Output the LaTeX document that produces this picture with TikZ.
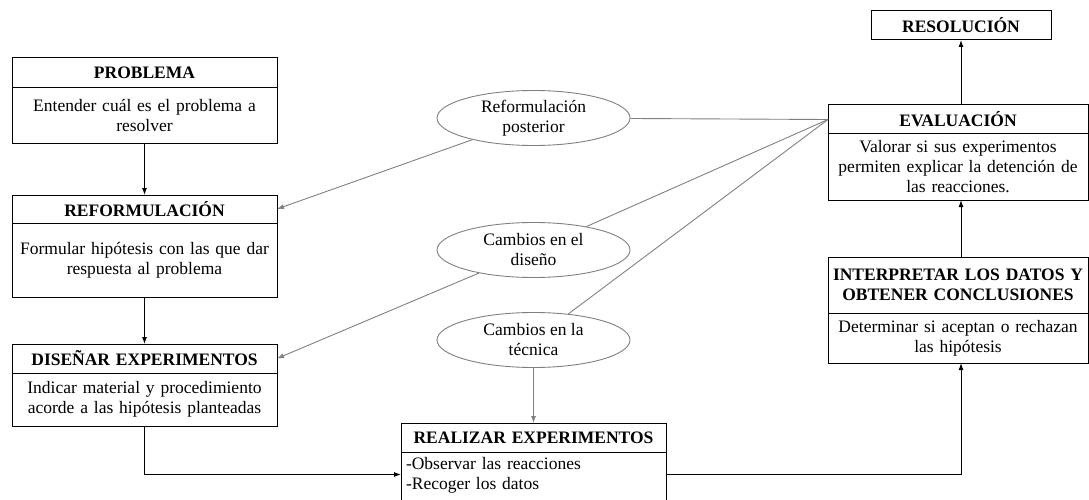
\documentclass[tikz,border=0pt]{standalone}
\usepackage{fontspec}
\setmainfont{Liberation Serif}
\usetikzlibrary{positioning,shapes.geometric,arrows.meta}
\newcommand{\boxfont}{\fontsize{17.5}{20}\selectfont}
\tikzset{
    head/.style={draw, line width=1pt, outer sep=0pt, inner xsep=3pt, inner ysep=2pt, align=center, font=\boxfont\bfseries},
    body/.style={draw, line width=1pt, outer sep=0pt, inner xsep=3pt, inner ysep=2pt, align=center, font=\boxfont},
    bubble/.style={ellipse, draw=gray, line width=0.9pt, minimum width=193pt, minimum height=55pt, inner sep=0pt, align=center, font=\boxfont},
    flow/.style={line width=1pt, -{Latex[length=7pt,width=5pt]}},
    back/.style={gray, line width=0.9pt, -{Latex[length=7pt,width=5pt]}},
    link/.style={gray, line width=0.9pt}
}
\begin{document}
\begin{tikzpicture}[x=1pt, y=-1pt]
        \useasboundingbox (0,0) rectangle (1089,500);
        \node[head, text width=259pt, minimum height=30pt, anchor=north] (probH) at (144.5,58) {PROBLEMA};
        \node[body, text width=259pt, minimum height=55pt, below=0pt of probH] (probB) {Entender cuál es el problema a\\resolver};
        \node[head, text width=259pt, minimum height=28pt, anchor=north] (refH) at (144.5,195) {REFORMULACIÓN};
        \node[body, text width=259pt, minimum height=74pt, below=0pt of refH] (refB) {Formular hipótesis con las que dar\\respuesta al problema};
        \node[head, text width=259pt, minimum height=29pt, anchor=north] (disH) at (144.5,344) {DISEÑAR EXPERIMENTOS};
        \node[body, text width=259pt, minimum height=53pt, below=0pt of disH] (disB) {Indicar material y procedimiento\\acorde a las hipótesis planteadas};
        \node[head, text width=259pt, minimum height=29pt, anchor=north] (realH) at (533.5,423) {REALIZAR EXPERIMENTOS};
        \node[body, text width=255pt, inner xsep=5pt, text height=15pt, text depth=38pt, align=left, below=0pt of realH] (realB) {-Observar las reacciones\\-Recoger los datos};
        \node[head, text width=174pt, minimum height=29pt, anchor=north] (resol) at (961,11) {RESOLUCIÓN};
        \node[head, text width=254pt, minimum height=29pt, anchor=north] (evalH) at (958,105) {EVALUACIÓN};
        \node[body, text width=254pt, minimum height=66pt, below=0pt of evalH] (evalB) {Valorar si sus experimentos\\permiten explicar la detención de\\las reacciones.};
        \node[head, text width=254pt, minimum height=56pt, anchor=north] (interpH) at (958,257) {INTERPRETAR LOS DATOS Y\\OBTENER CONCLUSIONES};
        \node[body, text width=254pt, minimum height=50pt, below=0pt of interpH] (interpB) {Determinar si aceptan o rechazan\\las hipótesis};
        \node[bubble] (refPost) at (533.5,118) {Reformulación\\posterior};
        \node[bubble] (camDis) at (533.5,250) {Cambios en el\\diseño};
        \node[bubble] (camTec) at (533.5,340) {Cambios en la\\técnica};
        \draw[flow] (probB.south) -- (refH.north);
        \draw[flow] (refB.south) -- (disH.north);
        \draw[flow] (disB.south) |- ([yshift=6pt]realB.west);
        \draw[flow] ([yshift=6pt]realB.east) -| (interpB.south -| resol.south);
        \draw[flow] (interpH.north -| resol.south) -- (evalB.south -| resol.south);
        \draw[flow] (evalH.north -| resol.south) -- (resol.south);
        \draw[link] (evalH.west) -- (refPost);
        \draw[link] (evalH.west) -- (camDis);
        \draw[link] (evalH.west) -- (camTec);
        \draw[back] (refPost) -- (refH.east);
        \draw[back] (camDis) -- (disH.east);
        \draw[back] (camTec.south) -- (realH.north);
    \end{tikzpicture}
\end{document}
